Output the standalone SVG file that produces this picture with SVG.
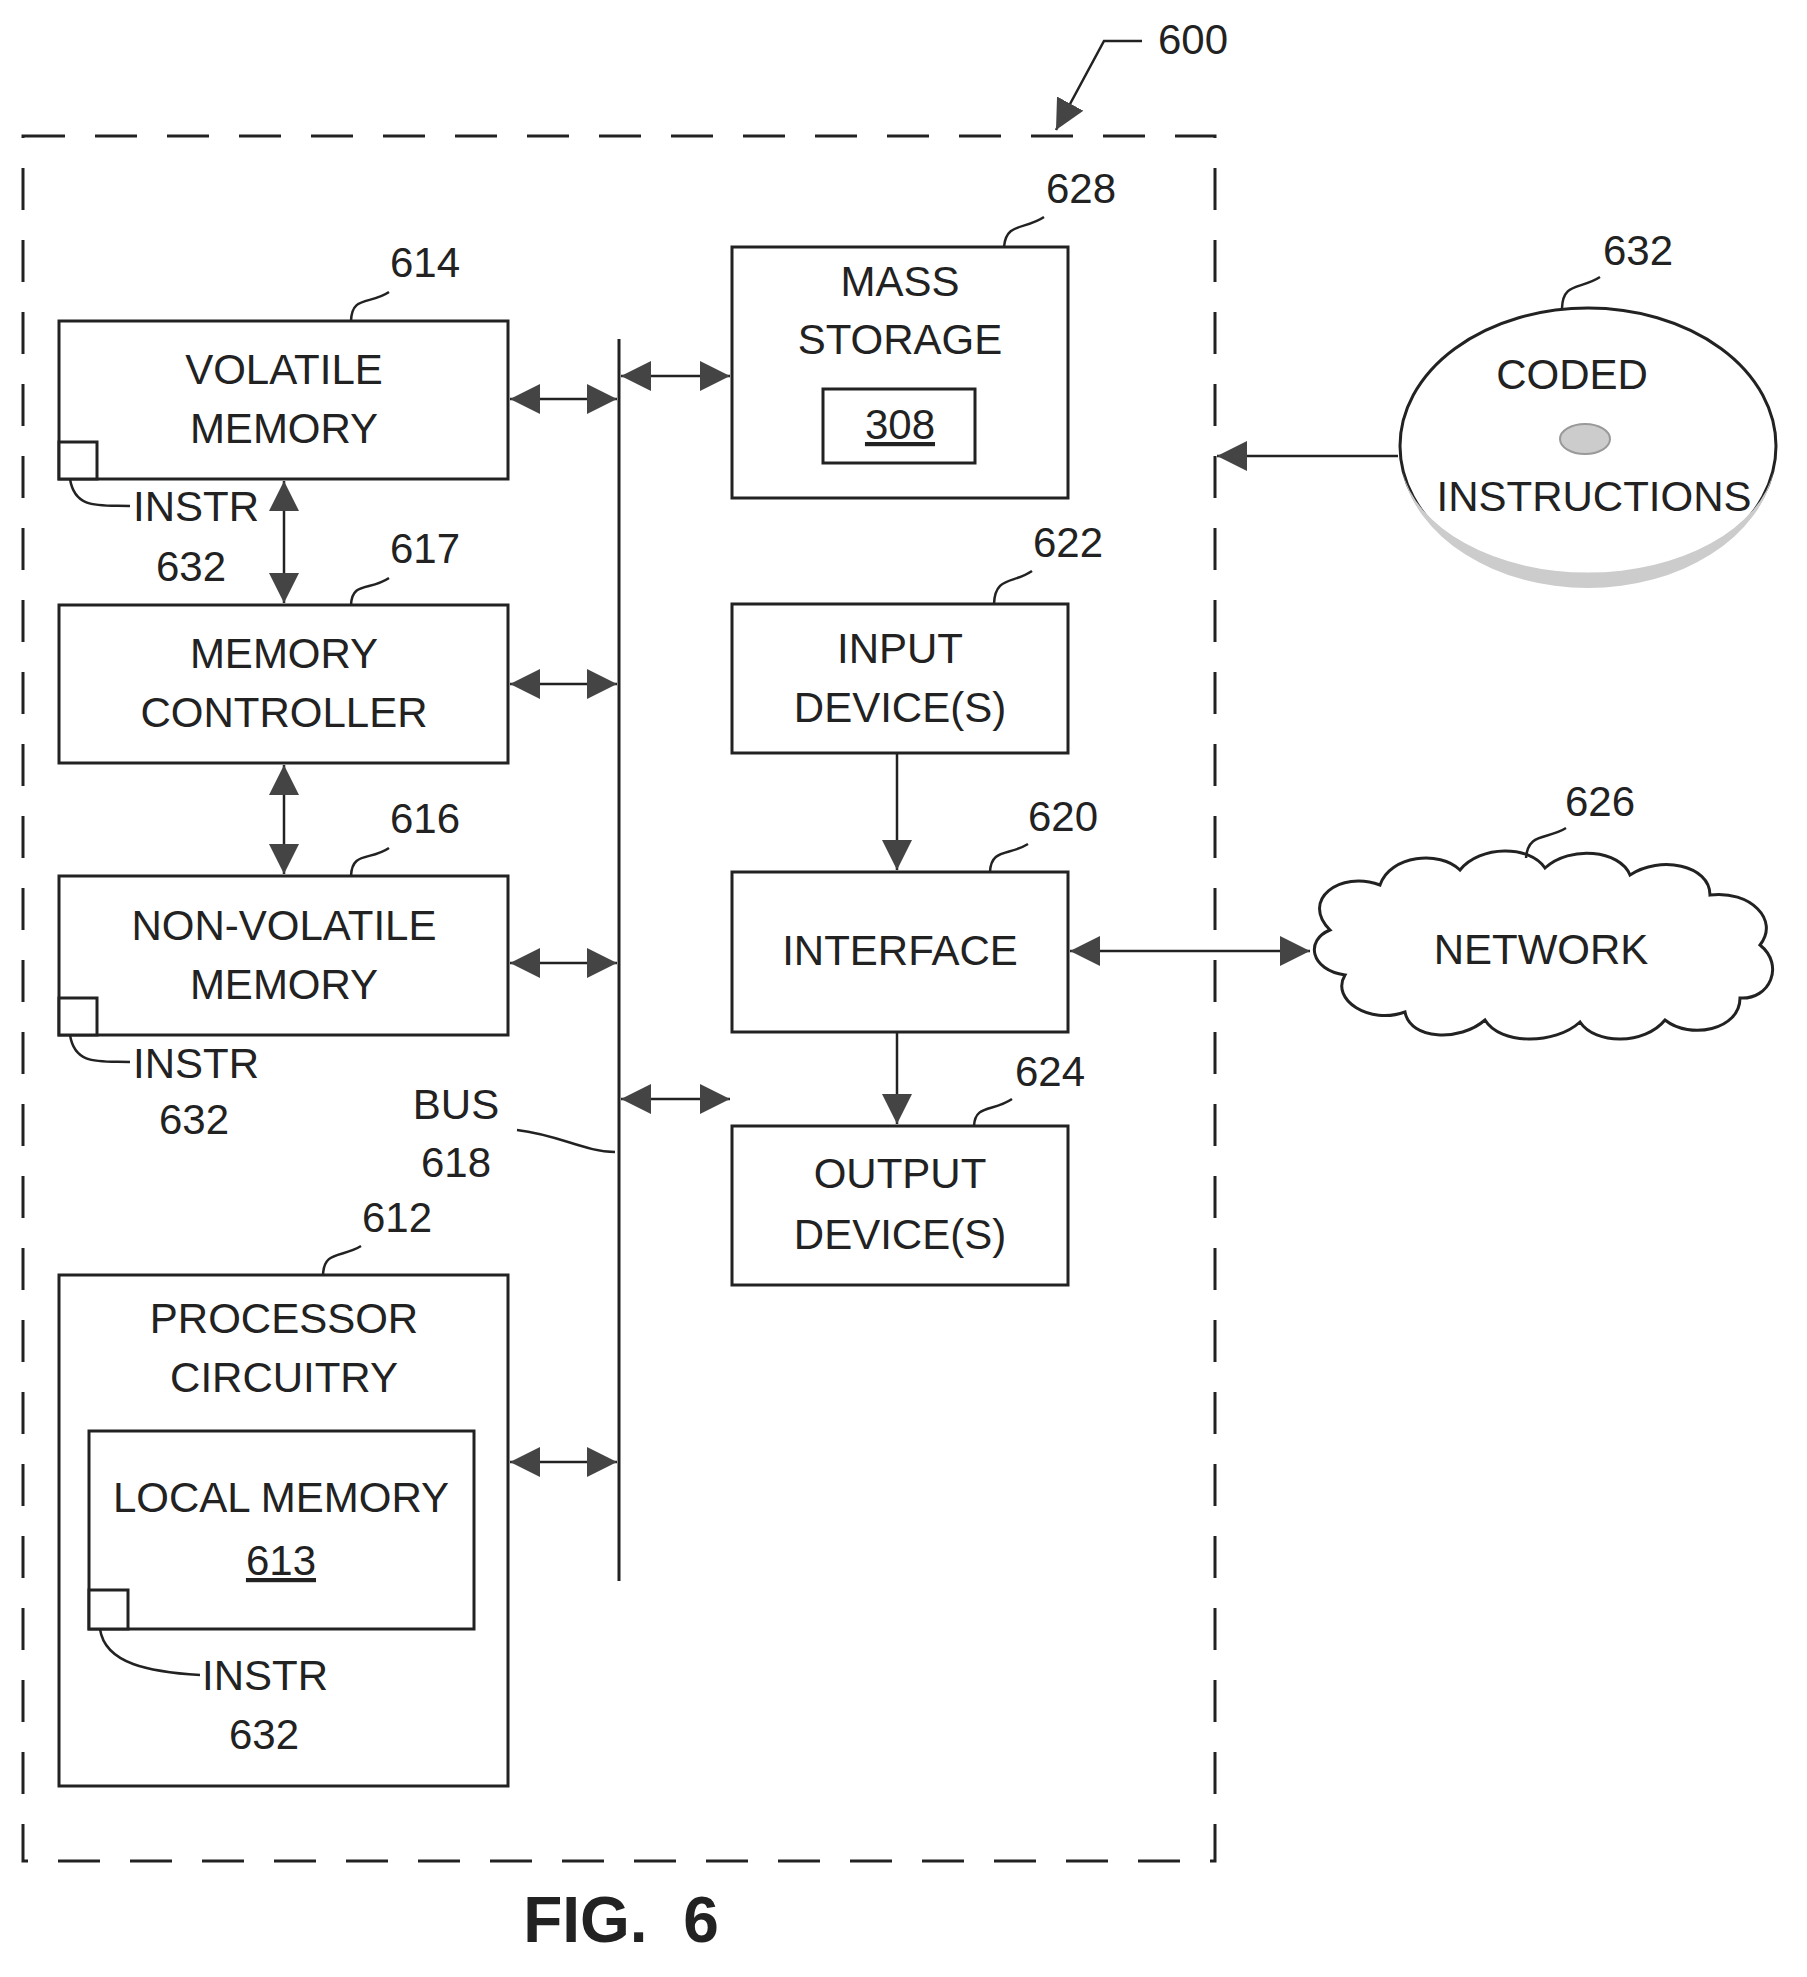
<svg xmlns="http://www.w3.org/2000/svg" width="1807" height="1977" viewBox="0 0 1807 1977">
<style>
text{font-family:"Liberation Sans",Arial,sans-serif;font-size:42px;fill:#222;text-anchor:middle}
.b{fill:#fff;stroke:#222;stroke-width:3}
.l{fill:none;stroke:#222;stroke-width:2.5}
.c{fill:none;stroke:#222;stroke-width:2.5;marker-end:url(#ah)}
.d{fill:none;stroke:#222;stroke-width:2.5;marker-start:url(#as);marker-end:url(#ah)}
.s{text-anchor:start}
</style>
<defs>
<marker id="ah" markerUnits="userSpaceOnUse" markerWidth="32" markerHeight="30" refX="30" refY="15" orient="auto"><path d="M0,0 L30,15 L0,30 Z" fill="#444"/></marker>
<marker id="as" markerUnits="userSpaceOnUse" markerWidth="32" markerHeight="30" refX="0" refY="15" orient="auto"><path d="M30,0 L0,15 L30,30 Z" fill="#444"/></marker>
</defs>
<rect x="23" y="136" width="1192" height="1725" fill="none" stroke="#222" stroke-width="3" stroke-dasharray="42,30"/>
<g id="label600"><text x="1158" y="54" style="text-anchor:start">600</text><path class="c" d="M1142,41 L1104,41 L1056,130"/></g>
<g id="volatile"><rect class="b" x="59" y="321" width="449" height="158"/><text x="284" y="384">VOLATILE</text><text x="284" y="443">MEMORY</text><rect class="b" x="59" y="442" width="38" height="37"/><path class="l" d="M70,479 C75,510 100,505 130,506"/><text class="s" x="133" y="521">INSTR</text><text x="191" y="581">632</text><text x="425" y="277">614</text><path class="l" d="M389,292 C370,305 352,295 351,321"/></g>
<g id="memctrl"><rect class="b" x="59" y="605" width="449" height="158"/><text x="284" y="668">MEMORY</text><text x="284" y="727">CONTROLLER</text><text x="425" y="563">617</text><path class="l" d="M389,578 C370,591 352,581 351,605"/></g>
<g id="nonvolatile"><rect class="b" x="59" y="876" width="449" height="159"/><text x="284" y="940">NON-VOLATILE</text><text x="284" y="999">MEMORY</text><rect class="b" x="59" y="998" width="38" height="37"/><path class="l" d="M70,1035 C75,1066 100,1061 130,1062"/><text class="s" x="133" y="1078">INSTR</text><text x="194" y="1134">632</text><text x="425" y="833">616</text><path class="l" d="M389,848 C370,861 352,851 351,876"/></g>
<g id="processor"><rect class="b" x="59" y="1275" width="449" height="511"/><text x="284" y="1333">PROCESSOR</text><text x="284" y="1392">CIRCUITRY</text><rect class="b" x="89" y="1431" width="385" height="198"/><text x="281" y="1512">LOCAL MEMORY</text><text x="281" y="1575" text-decoration="underline">613</text><rect class="b" x="89" y="1590" width="39" height="39"/><path class="l" d="M100,1629 C105,1664 150,1672 200,1675"/><text class="s" x="202" y="1690">INSTR</text><text x="264" y="1749">632</text><text x="397" y="1232">612</text><path class="l" d="M361,1246 C342,1258 324,1250 323,1275"/></g>
<g id="bus"><line x1="619" y1="339" x2="619" y2="1581" stroke="#222" stroke-width="3"/><text x="456" y="1119">BUS</text><text x="456" y="1177">618</text><path class="l" d="M517,1130 C560,1135 585,1152 615,1152"/></g>
<g id="massstorage"><rect class="b" x="732" y="247" width="336" height="251"/><text x="900" y="296">MASS</text><text x="900" y="354">STORAGE</text><rect class="b" x="823" y="389" width="152" height="74"/><text x="900" y="439" text-decoration="underline">308</text><text x="1081" y="203">628</text><path class="l" d="M1044,217 C1025,230 1006,222 1004,247"/></g>
<g id="input"><rect class="b" x="732" y="604" width="336" height="149"/><text x="900" y="663">INPUT</text><text x="900" y="722">DEVICE(S)</text><text x="1068" y="557">622</text><path class="l" d="M1032,571 C1013,584 995,576 994,604"/></g>
<g id="interface"><rect class="b" x="732" y="872" width="336" height="160"/><text x="900" y="965">INTERFACE</text><text x="1063" y="831">620</text><path class="l" d="M1028,844 C1009,856 991,848 990,872"/></g>
<g id="output"><rect class="b" x="732" y="1126" width="336" height="159"/><text x="900" y="1188">OUTPUT</text><text x="900" y="1249">DEVICE(S)</text><text x="1050" y="1086">624</text><path class="l" d="M1012,1099 C993,1112 975,1104 974,1126"/></g>
<g id="network"><path fill="#fff" stroke="#222" stroke-width="3" d="M1330,930 C1300,900 1340,870 1380,885 C1390,855 1440,850 1460,870 C1480,845 1530,845 1545,868 C1570,845 1620,850 1630,875 C1660,855 1710,865 1710,895 C1750,890 1780,920 1760,945 C1785,965 1770,1000 1740,998 C1740,1030 1690,1040 1665,1020 C1645,1045 1595,1045 1580,1022 C1555,1045 1500,1045 1485,1020 C1460,1042 1410,1040 1405,1012 C1370,1025 1330,1000 1345,975 C1310,970 1305,940 1330,930 Z"/><text x="1541" y="964">NETWORK</text><text x="1600" y="816">626</text><path class="l" d="M1566,828 C1547,840 1528,832 1526,858"/></g>
<g id="coded"><ellipse cx="1588" cy="446" rx="188" ry="138" fill="#fff" stroke="#222" stroke-width="3"/><path d="M1402,470 A188,138 0 0 0 1774,470 A188,120 0 0 1 1402,470 Z" fill="#ccc"/><ellipse cx="1585" cy="439" rx="25" ry="15" fill="#ccc" stroke="#999" stroke-width="2"/><text x="1572" y="389">CODED</text><text x="1594" y="511">INSTRUCTIONS</text><text x="1638" y="265">632</text><path class="l" d="M1600,277 C1580,290 1563,282 1562,308"/></g>
<g id="connectors">
<line class="d" x1="284" y1="481" x2="284" y2="603"/>
<line class="d" x1="284" y1="765" x2="284" y2="874"/>
<line class="d" x1="510" y1="399" x2="617" y2="399"/>
<line class="d" x1="510" y1="684" x2="617" y2="684"/>
<line class="d" x1="510" y1="963" x2="617" y2="963"/>
<line class="d" x1="510" y1="1462" x2="617" y2="1462"/>
<line class="d" x1="621" y1="376" x2="730" y2="376"/>
<line class="d" x1="621" y1="1099" x2="730" y2="1099"/>
<line class="c" x1="897" y1="753" x2="897" y2="870"/>
<line class="c" x1="897" y1="1032" x2="897" y2="1124"/>
<line class="d" x1="1070" y1="951" x2="1310" y2="951"/>
<line class="c" x1="1398" y1="456" x2="1217" y2="456"/>
</g>
<text x="621" y="1942" style="font-weight:bold;font-size:64px;white-space:pre">FIG.  6</text>
</svg>
